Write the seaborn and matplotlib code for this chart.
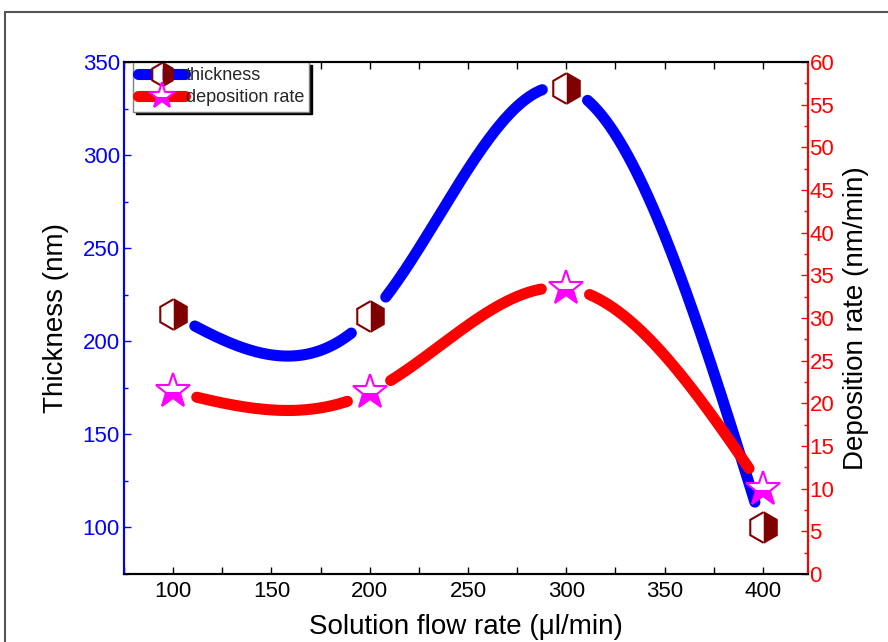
import numpy as np
import seaborn as sns
import matplotlib.pyplot as plt
from matplotlib.lines import Line2D
from matplotlib.patches import Rectangle
from matplotlib.ticker import MultipleLocator

# data
flow_rate = [100, 200, 300, 400]
thickness = [214.5, 213.5, 336, 100]
dep_rate = [21.4, 21.3, 33.5, 10.0]


def natural_spline(x, y, xs):
    # natural cubic spline through the points
    x = np.asarray(x, float)
    y = np.asarray(y, float)
    n = len(x)
    h = np.diff(x)
    A = np.zeros((n, n))
    b = np.zeros(n)
    A[0, 0] = A[-1, -1] = 1
    for i in range(1, n - 1):
        A[i, i - 1] = h[i - 1]
        A[i, i] = 2 * (h[i - 1] + h[i])
        A[i, i + 1] = h[i]
        b[i] = 6 * ((y[i + 1] - y[i]) / h[i] - (y[i] - y[i - 1]) / h[i - 1])
    M = np.linalg.solve(A, b)
    out = np.empty_like(xs)
    for k, xv in enumerate(xs):
        i = min(max(np.searchsorted(x, xv) - 1, 0), n - 2)
        t1 = x[i + 1] - xv
        t0 = xv - x[i]
        out[k] = (M[i] * t1**3 + M[i + 1] * t0**3) / (6 * h[i]) \
            + (y[i] / h[i] - M[i] * h[i] / 6) * t1 \
            + (y[i + 1] / h[i] - M[i + 1] * h[i] / 6) * t0
    return out


sns.set_theme(style="ticks")
plt.rcParams['font.family'] = ['Liberation Sans', 'DejaVu Sans']

fig = plt.figure(figsize=(8.88, 6.42), dpi=100)
ax = fig.add_axes([124 / 888, 1 - 574 / 642, 684 / 888, 512 / 642])
ax2 = ax.twinx()

ax.set_xlim(75, 423)
ax.set_ylim(75, 350)
ax2.set_ylim(0, 60)

xs = np.linspace(100, 400, 600)


def draw_gapped(axis, y, color, gap=24):
    ys = natural_spline(flow_rate, y, xs)
    pix = axis.transData.transform(np.column_stack([xs, ys]))
    mk = axis.transData.transform(np.column_stack([flow_rate, y]))
    keep = np.ones(len(xs), bool)
    for p in mk:
        keep &= np.hypot(pix[:, 0] - p[0], pix[:, 1] - p[1]) > gap
    # split into runs
    idx = np.flatnonzero(keep)
    runs = np.split(idx, np.flatnonzero(np.diff(idx) > 1) + 1)
    for r in runs:
        if len(r) < 2:
            continue
        sns.lineplot(x=xs[r], y=ys[r], ax=axis, color=color, lw=8,
                     estimator=None, sort=False, solid_capstyle='round')


draw_gapped(ax, thickness, 'blue')
draw_gapped(ax2, dep_rate, 'red')

hex_style = dict(marker='h', ms=22, ls='none', fillstyle='right',
                 markerfacecolor='#800000', markerfacecoloralt='white',
                 markeredgecolor='#800000', mew=1.5)
star_style = dict(marker='*', ms=26, ls='none', fillstyle='bottom',
                  markerfacecolor='magenta', markerfacecoloralt='white',
                  markeredgecolor='magenta', mew=1.5)
ax.plot(flow_rate, thickness, zorder=5, **hex_style)
ax2.plot(flow_rate, dep_rate, zorder=5, **star_style)

# axes styling
ax.xaxis.set_major_locator(MultipleLocator(50))
ax.xaxis.set_minor_locator(MultipleLocator(25))
ax.yaxis.set_major_locator(MultipleLocator(50))
ax.yaxis.set_minor_locator(MultipleLocator(25))
ax2.yaxis.set_major_locator(MultipleLocator(5))
ax2.yaxis.set_minor_locator(MultipleLocator(2.5))

ax.tick_params(axis='x', which='both', direction='in', top=True, colors='black',
               labelsize=16, pad=5, length=5, width=1)
ax.tick_params(axis='y', which='both', direction='in', colors='blue', labelsize=16,
               pad=3)
ax.tick_params(axis='y', which='major', length=5, width=1)
ax.tick_params(axis='y', which='minor', length=3, width=1)
ax2.tick_params(axis='y', which='both', direction='in', colors='red', labelsize=16,
                pad=1)
ax2.tick_params(axis='y', which='major', length=5, width=1)
ax2.tick_params(axis='y', which='minor', length=3, width=1)

for a in (ax, ax2):
    a.spines['top'].set_color('black')
    a.spines['bottom'].set_color('black')
    a.spines['left'].set_color('blue')
    a.spines['right'].set_color('red')
    for s in a.spines.values():
        s.set_linewidth(1.5)
    a.set_xlabel('')
    a.set_ylabel('')

ax.set_xlabel('Solution flow rate (μl/min)', fontsize=20, color='black', labelpad=9)
ax.set_ylabel('Thickness (nm)', fontsize=20, color='black', labelpad=10)
ax2.set_ylabel('Deposition rate (nm/min)', fontsize=20, color='black', labelpad=6)

handles = [
    Line2D([], [], color='blue', lw=8, solid_capstyle='round',
           **{**hex_style, 'ms': 17}),
    Line2D([], [], color='red', lw=8, solid_capstyle='round',
           **{**star_style, 'ms': 20}),
]
handles[0].set_linestyle('-')
handles[1].set_linestyle('-')
leg = ax.legend(handles, ['thickness', 'deposition rate'], loc='upper left',
                bbox_to_anchor=(9 / 684, 1.0), borderaxespad=0, fontsize=13,
                fancybox=False, framealpha=1, edgecolor='gray',
                shadow={'color': 'black', 'alpha': 1},
                handlelength=2.6, handletextpad=0.05, labelspacing=0.3,
                borderpad=0.28)
leg.get_frame().set_linewidth(1)
leg.set_zorder(10)

# outer frame of the exported page
fig.patches.append(Rectangle((5 / 888, -0.2), 2, 1.2 - 12 / 642,
                             transform=fig.transFigure, fill=False,
                             edgecolor='#555555', lw=1.5))

fig.savefig('out.png', dpi=100)
